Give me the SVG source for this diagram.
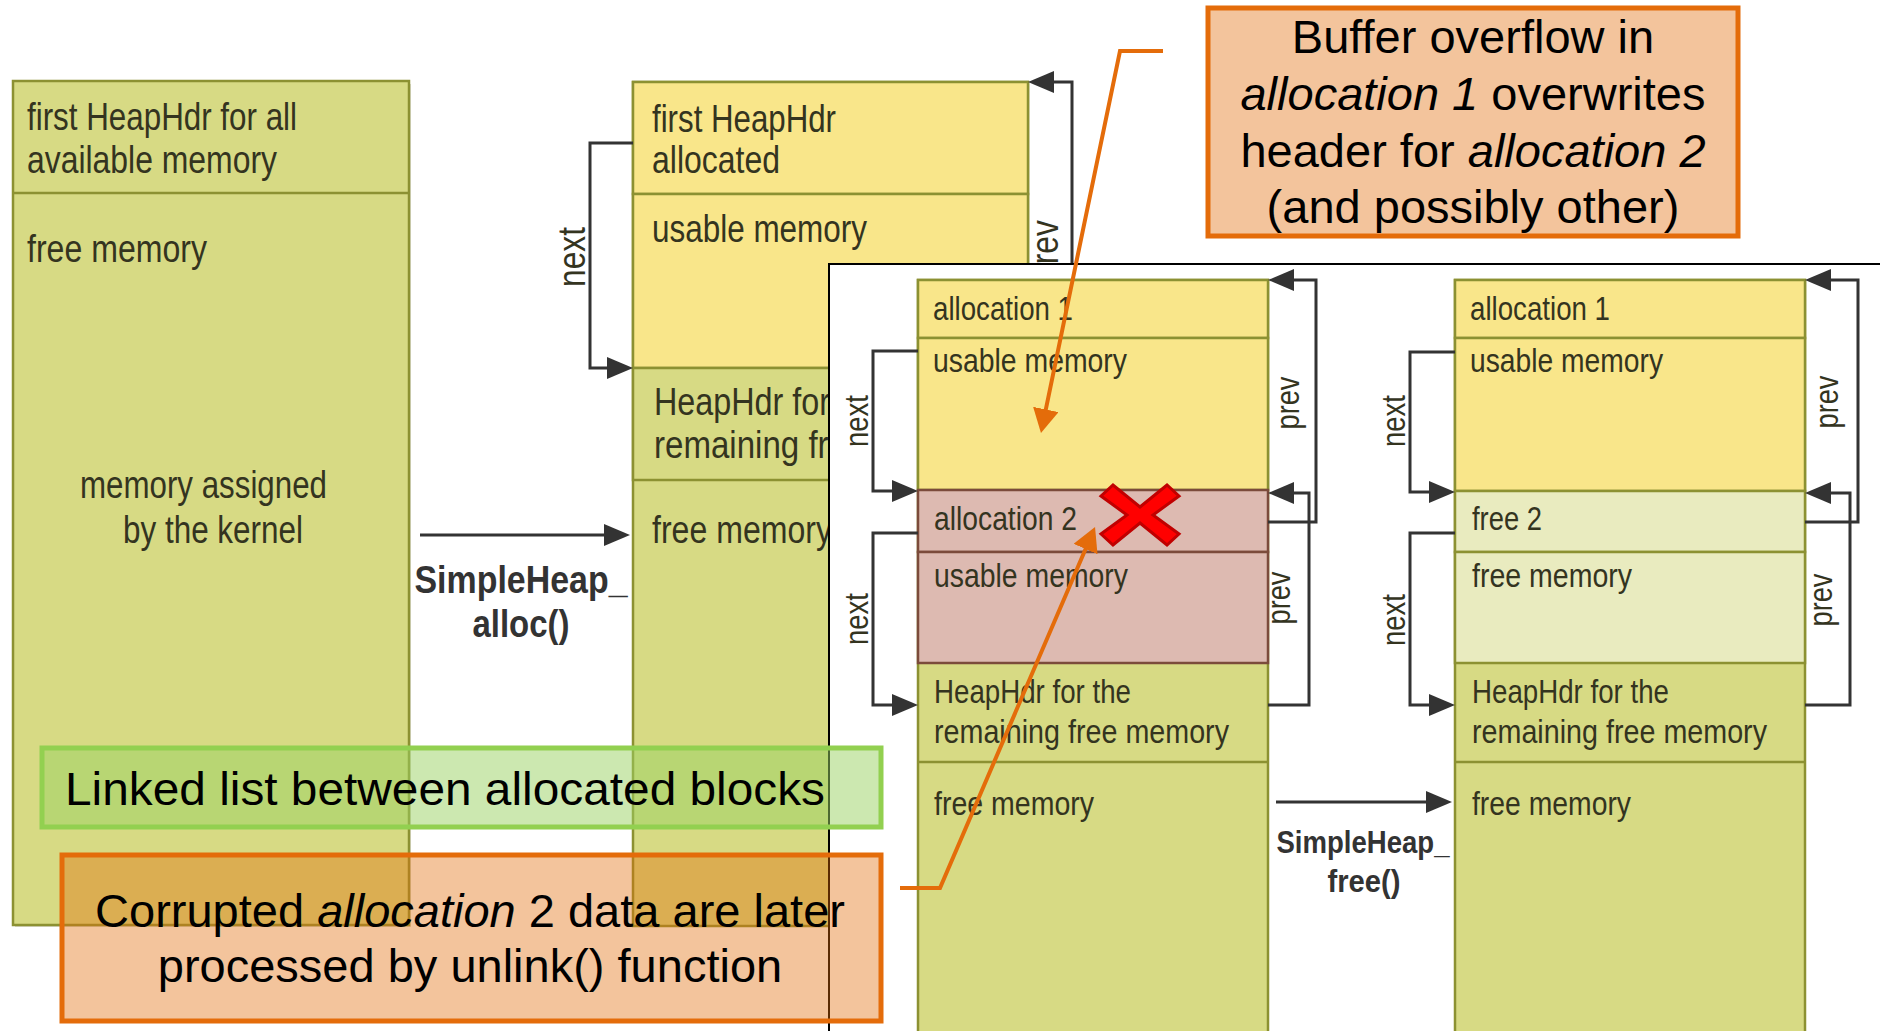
<svg xmlns="http://www.w3.org/2000/svg" width="1880" height="1031" viewBox="0 0 1880 1031">
  <style>
    .olive { fill: #D7DA84; stroke: #8C9132; stroke-width: 2.5; }
    .yellow { fill: #F9E68A; stroke: #8C9132; stroke-width: 2.5; }
    .pink { fill: #DDBAB1; stroke: #7B4B3B; stroke-width: 2.5; }
    .pale { fill: #E9EBBF; stroke: #8C9132; stroke-width: 2.5; }
    .lbl { font-family: "Liberation Sans Narrow", "Liberation Sans", Arial, sans-serif; fill: #34341F; }
    .lg { font-size: 38px; }
    .md { font-size: 33px; }
    .fn { font-family: "Liberation Sans Narrow", "Liberation Sans", Arial, sans-serif; font-weight: bold; fill: #333; text-anchor: middle; }
    .link { fill: none; stroke: #333; stroke-width: 3; marker-end: url(#ah); }
    .call { font-family: "Liberation Sans", Arial, sans-serif; font-size: 47px; fill: #000; }
    .callbox { fill: #E16B08; fill-opacity: 0.4; stroke: #E46C0A; stroke-width: 5; }
    .greenbox { fill: #99D161; fill-opacity: 0.5; stroke: #92D050; stroke-width: 5; }
    .pointer { fill: none; stroke: #E46C0A; stroke-width: 4; marker-end: url(#oh); }
  </style>
  <defs>
    <marker id="ah" markerUnits="userSpaceOnUse" markerWidth="28" markerHeight="22" refX="14" refY="11" orient="auto">
      <path d="M0,0 L26,11 L0,22 Z" fill="#333"/>
    </marker>
    <marker id="oh" markerUnits="userSpaceOnUse" markerWidth="26" markerHeight="28" refX="12" refY="13" orient="auto">
      <path d="M0,0 L24,13 L0,26 Z" fill="#E46C0A"/>
    </marker>
  </defs>

  <rect width="1880" height="1031" fill="#FFFFFF"/>

  <!-- whole heap before allocation -->
  <g id="heap-initial">
    <rect x="15" y="84" width="396" height="843" fill="#B8B8A4" opacity="0.5"/>
    <rect class="olive" x="13" y="81" width="396" height="844"/>
    <line x1="13" y1="193" x2="409" y2="193" stroke="#8C9132" stroke-width="2.5"/>
    <text class="lbl lg" x="27" y="130" textLength="270" lengthAdjust="spacingAndGlyphs">first HeapHdr for all</text>
    <text class="lbl lg" x="27" y="173" textLength="250" lengthAdjust="spacingAndGlyphs">available memory</text>
    <text class="lbl lg" x="27" y="262" textLength="180" lengthAdjust="spacingAndGlyphs">free memory</text>
    <text class="lbl lg" x="80" y="498" textLength="247" lengthAdjust="spacingAndGlyphs">memory assigned</text>
    <text class="lbl lg" x="123" y="543" textLength="180" lengthAdjust="spacingAndGlyphs">by the kernel</text>
  </g>

  <!-- heap after first allocation -->
  <g id="heap-allocated">
    <rect class="olive" x="633" y="82" width="395" height="844"/>
    <rect class="yellow" x="633" y="82" width="395" height="112"/>
    <rect class="yellow" x="633" y="194" width="395" height="174"/>
    <rect class="olive" x="633" y="368" width="395" height="112"/>
    <text class="lbl lg" x="652" y="132" textLength="184" lengthAdjust="spacingAndGlyphs">first HeapHdr</text>
    <text class="lbl lg" x="652" y="173" textLength="128" lengthAdjust="spacingAndGlyphs">allocated</text>
    <text class="lbl lg" x="652" y="242" textLength="215" lengthAdjust="spacingAndGlyphs">usable memory</text>
    <text class="lbl lg" x="654" y="415" textLength="230" lengthAdjust="spacingAndGlyphs">HeapHdr for the</text>
    <text class="lbl lg" x="654" y="458" textLength="340" lengthAdjust="spacingAndGlyphs">remaining free memory</text>
    <text class="lbl lg" x="652" y="543" textLength="180" lengthAdjust="spacingAndGlyphs">free memory</text>
    <text class="lbl lg" transform="translate(585,257) rotate(-90)" text-anchor="middle" textLength="60" lengthAdjust="spacingAndGlyphs">next</text>
    <text class="lbl lg" transform="translate(1058,251) rotate(-90)" text-anchor="middle" textLength="62" lengthAdjust="spacingAndGlyphs">prev</text>
  </g>

  <g id="connectors-allocated">
    <path class="link" d="M633,143 H590 V368 H621"/>
    <path class="link" d="M1072,300 V82 H1040"/>
    <path class="link" d="M420,535 H618"/>
  </g>

  <g id="label-alloc">
    <text class="fn" x="521" y="593" font-size="39" textLength="213" lengthAdjust="spacingAndGlyphs">SimpleHeap_</text>
    <text class="fn" x="521" y="637" font-size="39" textLength="97" lengthAdjust="spacingAndGlyphs">alloc()</text>
  </g>

  <!-- overflow / free scenario panel -->
  <g id="panel">
    <rect x="829" y="264" width="1100" height="820" fill="#FFFFFF" stroke="#000" stroke-width="2"/>
  </g>

  <g id="heap-overflow">
    <rect class="olive" x="918" y="280" width="350" height="780"/>
    <rect class="yellow" x="918" y="280" width="350" height="58"/>
    <rect class="yellow" x="918" y="338" width="350" height="152"/>
    <rect class="pink" x="918" y="490" width="350" height="62"/>
    <rect class="pink" x="918" y="552" width="350" height="111"/>
    <line x1="918" y1="762" x2="1268" y2="762" stroke="#8C9132" stroke-width="2.5"/>
    <text class="lbl md" x="933" y="320" textLength="140" lengthAdjust="spacingAndGlyphs">allocation 1</text>
    <text class="lbl md" x="933" y="372" textLength="194" lengthAdjust="spacingAndGlyphs">usable memory</text>
    <text class="lbl md" x="934" y="530" textLength="143" lengthAdjust="spacingAndGlyphs">allocation 2</text>
    <text class="lbl md" x="934" y="587" textLength="194" lengthAdjust="spacingAndGlyphs">usable memory</text>
    <text class="lbl md" x="934" y="703" textLength="197" lengthAdjust="spacingAndGlyphs">HeapHdr for the</text>
    <text class="lbl md" x="934" y="743" textLength="295" lengthAdjust="spacingAndGlyphs">remaining free memory</text>
    <text class="lbl md" x="934" y="815" textLength="160" lengthAdjust="spacingAndGlyphs">free memory</text>
    <text class="lbl md" transform="translate(868,421) rotate(-90)" text-anchor="middle" textLength="52" lengthAdjust="spacingAndGlyphs">next</text>
    <text class="lbl md" transform="translate(868,619) rotate(-90)" text-anchor="middle" textLength="52" lengthAdjust="spacingAndGlyphs">next</text>
    <text class="lbl md" transform="translate(1299,403) rotate(-90)" text-anchor="middle" textLength="53" lengthAdjust="spacingAndGlyphs">prev</text>
    <text class="lbl md" transform="translate(1290,598) rotate(-90)" text-anchor="middle" textLength="53" lengthAdjust="spacingAndGlyphs">prev</text>
  </g>

  <g id="heap-freed">
    <rect class="olive" x="1455" y="280" width="350" height="780"/>
    <rect class="yellow" x="1455" y="280" width="350" height="58"/>
    <rect class="yellow" x="1455" y="338" width="350" height="153"/>
    <rect class="pale" x="1455" y="491" width="350" height="61"/>
    <rect class="pale" x="1455" y="552" width="350" height="111"/>
    <line x1="1455" y1="762" x2="1805" y2="762" stroke="#8C9132" stroke-width="2.5"/>
    <text class="lbl md" x="1470" y="320" textLength="140" lengthAdjust="spacingAndGlyphs">allocation 1</text>
    <text class="lbl md" x="1470" y="372" textLength="193" lengthAdjust="spacingAndGlyphs">usable memory</text>
    <text class="lbl md" x="1472" y="530" textLength="70" lengthAdjust="spacingAndGlyphs">free 2</text>
    <text class="lbl md" x="1472" y="587" textLength="160" lengthAdjust="spacingAndGlyphs">free memory</text>
    <text class="lbl md" x="1472" y="703" textLength="197" lengthAdjust="spacingAndGlyphs">HeapHdr for the</text>
    <text class="lbl md" x="1472" y="743" textLength="295" lengthAdjust="spacingAndGlyphs">remaining free memory</text>
    <text class="lbl md" x="1472" y="815" textLength="159" lengthAdjust="spacingAndGlyphs">free memory</text>
    <text class="lbl md" transform="translate(1405,421) rotate(-90)" text-anchor="middle" textLength="52" lengthAdjust="spacingAndGlyphs">next</text>
    <text class="lbl md" transform="translate(1405,620) rotate(-90)" text-anchor="middle" textLength="52" lengthAdjust="spacingAndGlyphs">next</text>
    <text class="lbl md" transform="translate(1838,402) rotate(-90)" text-anchor="middle" textLength="53" lengthAdjust="spacingAndGlyphs">prev</text>
    <text class="lbl md" transform="translate(1832,600) rotate(-90)" text-anchor="middle" textLength="53" lengthAdjust="spacingAndGlyphs">prev</text>
  </g>

  <g id="connectors-panel">
    <path class="link" d="M918,351 H873 V491 H906"/>
    <path class="link" d="M918,533 H873 V705 H906"/>
    <path class="link" d="M1268,522 H1316 V280 H1280"/>
    <path class="link" d="M1268,705 H1309 V493 H1280"/>
    <path class="link" d="M1455,352 H1410 V492 H1443"/>
    <path class="link" d="M1455,533 H1410 V705 H1443"/>
    <path class="link" d="M1805,522 H1858 V280 H1817"/>
    <path class="link" d="M1805,705 H1850 V493 H1817"/>
    <path class="link" d="M1276,802 H1440"/>
  </g>

  <g id="label-free">
    <text class="fn" x="1363" y="853" font-size="32" textLength="173" lengthAdjust="spacingAndGlyphs">SimpleHeap_</text>
    <text class="fn" x="1364" y="892" font-size="32" textLength="73" lengthAdjust="spacingAndGlyphs">free()</text>
  </g>

  <!-- corrupted header mark -->
  <g id="mark-corrupt">
    <polygon points="1101,496 1113,485 1140,507 1167,485 1179,496 1153,515 1179,534 1167,545 1140,523 1113,545 1101,534 1127,515" fill="#FF0000" stroke="#C00000" stroke-width="3" stroke-linejoin="miter"/>
  </g>

  <g id="connectors-callouts">
    <path class="pointer" d="M1163,51 H1120 L1043.4,421.2"/>
    <path class="pointer" d="M900,888 H940 L1090.3,538"/>
  </g>

  <g id="note-linked-list">
    <rect class="greenbox" x="42" y="748" width="839" height="79"/>
    <text class="call" x="65" y="805" textLength="760" lengthAdjust="spacingAndGlyphs">Linked list between allocated blocks</text>
  </g>

  <g id="note-unlink">
    <rect class="callbox" x="62" y="855" width="819" height="166"/>
    <text class="call" x="470" y="927" text-anchor="middle">Corrupted <tspan font-style="italic">allocation</tspan> 2 data are later</text>
    <text class="call" x="470" y="982" text-anchor="middle">processed by unlink() function</text>
  </g>

  <g id="note-overflow">
    <rect class="callbox" x="1208" y="8" width="530" height="228"/>
    <text class="call" x="1473" y="53" text-anchor="middle">Buffer overflow in</text>
    <text class="call" x="1473" y="110" text-anchor="middle"><tspan font-style="italic">allocation 1</tspan> overwrites</text>
    <text class="call" x="1473" y="167" text-anchor="middle">header for <tspan font-style="italic">allocation 2</tspan></text>
    <text class="call" x="1473" y="223" text-anchor="middle">(and possibly other)</text>
  </g>
</svg>
